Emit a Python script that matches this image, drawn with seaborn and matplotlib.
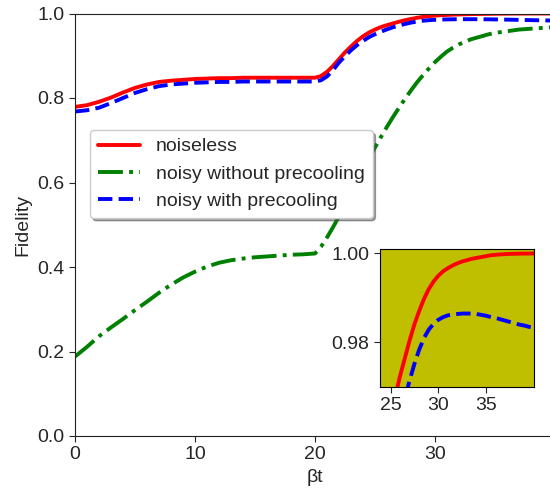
import matplotlib

matplotlib.use("Agg")

import matplotlib.pyplot as plt
import pandas as pd
import seaborn as sns

# time grid (beta*t)
t_early = [0, 1, 2, 3, 4, 5, 6, 7, 8, 9, 10, 11, 12, 13, 14, 15, 16, 17, 18, 19, 20]
t_late = [20.5, 21.0, 21.5, 22.0, 22.5, 23.0, 23.5, 24.0, 24.5, 25.0, 25.5, 26.0,
          26.5, 27.0, 27.5, 28.0, 28.5, 29.0, 29.5, 30.0, 30.5, 31.0, 31.5, 32.0,
          32.5, 33.0, 33.5, 34.0, 34.5, 35.0, 35.5, 36.0, 36.5, 37.0, 37.5, 38.0,
          38.5, 39.0, 39.5, 40.0]

noiseless = [0.779, 0.783, 0.791, 0.801, 0.813, 0.824, 0.832, 0.838, 0.841, 0.843,
             0.845, 0.846, 0.847, 0.847, 0.848, 0.848, 0.848, 0.848, 0.848, 0.848,
             0.848,
             0.852, 0.862, 0.876, 0.892, 0.908, 0.922, 0.935, 0.946, 0.955, 0.962,
             0.968, 0.9725, 0.9765, 0.9805, 0.9841, 0.9871, 0.9898, 0.9920, 0.9937,
             0.9950, 0.9960, 0.9967, 0.9973, 0.9978, 0.9982, 0.9985, 0.9988, 0.9990,
             0.9992, 0.9994, 0.9996, 0.9997, 0.9998, 0.99985, 0.9999, 0.99993,
             0.99995, 0.99997, 0.99998, 1.0]

noisy_no_pre = [0.188, 0.211, 0.236, 0.257, 0.277, 0.298, 0.318, 0.339, 0.358, 0.375,
                0.389, 0.401, 0.410, 0.416, 0.420, 0.423, 0.425, 0.427, 0.429, 0.430,
                0.432,
                0.448, 0.470, 0.494, 0.520, 0.547, 0.575, 0.603, 0.630, 0.657, 0.683,
                0.708, 0.732, 0.755, 0.777, 0.798, 0.818, 0.837, 0.854, 0.870, 0.885,
                0.898, 0.910, 0.919, 0.927, 0.933, 0.939, 0.943, 0.947, 0.951, 0.954,
                0.956, 0.958, 0.960, 0.962, 0.963, 0.964, 0.965, 0.966, 0.967, 0.968]

noisy_pre = [0.768, 0.771, 0.777, 0.788, 0.800, 0.812, 0.821, 0.828, 0.832, 0.834,
             0.836, 0.837, 0.838, 0.838, 0.839, 0.839, 0.839, 0.839, 0.839, 0.839,
             0.839,
             0.842, 0.851, 0.866, 0.884, 0.899, 0.913, 0.925, 0.935, 0.944, 0.951,
             0.957, 0.9625, 0.9674, 0.9715, 0.9752, 0.9784, 0.9810, 0.9829, 0.9842,
             0.9851, 0.9857, 0.9861, 0.9863, 0.9864, 0.9865, 0.9865, 0.9865, 0.9864,
             0.9862, 0.9860, 0.9857, 0.9855, 0.9852, 0.9849, 0.9846, 0.9843, 0.9840,
             0.9838, 0.9835, 0.9833]

t = t_early + t_late
df = pd.DataFrame({"t": t, "noiseless": noiseless,
                   "noisy without precooling": noisy_no_pre,
                   "noisy with precooling": noisy_pre})

series = [
    ("noiseless", "red", "-"),
    ("noisy without precooling", "green", "-."),
    ("noisy with precooling", "blue", "--"),
]

sns.set_style("ticks")
plt.rcParams["font.family"] = ["Liberation Sans", "DejaVu Sans"]
plt.rcParams["font.size"] = 14

fig = plt.figure(figsize=(5.5, 4.96), dpi=100)
ax = fig.add_axes([75 / 550, 1 - 436 / 496, 480 / 550, 422.5 / 496])

for name, color, ls in series:
    sns.lineplot(data=df, x="t", y=name, ax=ax, color=color, linestyle=ls,
                 linewidth=2.8, label=name)

ax.set_xlim(0, 40)
ax.set_ylim(0, 1.0)
ax.set_xticks([0, 10, 20, 30])
ax.set_yticks([0.0, 0.2, 0.4, 0.6, 0.8, 1.0])
ax.set_xlabel("βt", fontsize=14)
ax.set_ylabel("Fidelity", fontsize=14)
ax.tick_params(labelsize=14, length=4)
for sp in ax.spines.values():
    sp.set_color("#222222")
ax.legend(loc="upper left", bbox_to_anchor=(0.031, 0.724), borderaxespad=0,
          fancybox=True, shadow=True, framealpha=1, fontsize=14, handlelength=2.2)

# inset zoom on the late-time region
axin = fig.add_axes([380 / 550, 1 - 387 / 496, 154 / 550, 138 / 496])
axin.set_facecolor("y")
for name, color, ls in [series[0], series[2]]:
    sns.lineplot(data=df, x="t", y=name, ax=axin, color=color, linestyle=ls,
                 linewidth=2.8, legend=False)
axin.set_xlim(23.9, 40)
axin.set_ylim(0.97, 1.001)
axin.set_xticks([25, 30, 35])
axin.set_yticks([0.98, 1.00])
axin.set_yticklabels(["0.98", "1.00"])
axin.set_xlabel("")
axin.set_ylabel("")
axin.tick_params(labelsize=14, length=4)
for sp in axin.spines.values():
    sp.set_color("black")

fig.savefig("out.png", dpi=100)
